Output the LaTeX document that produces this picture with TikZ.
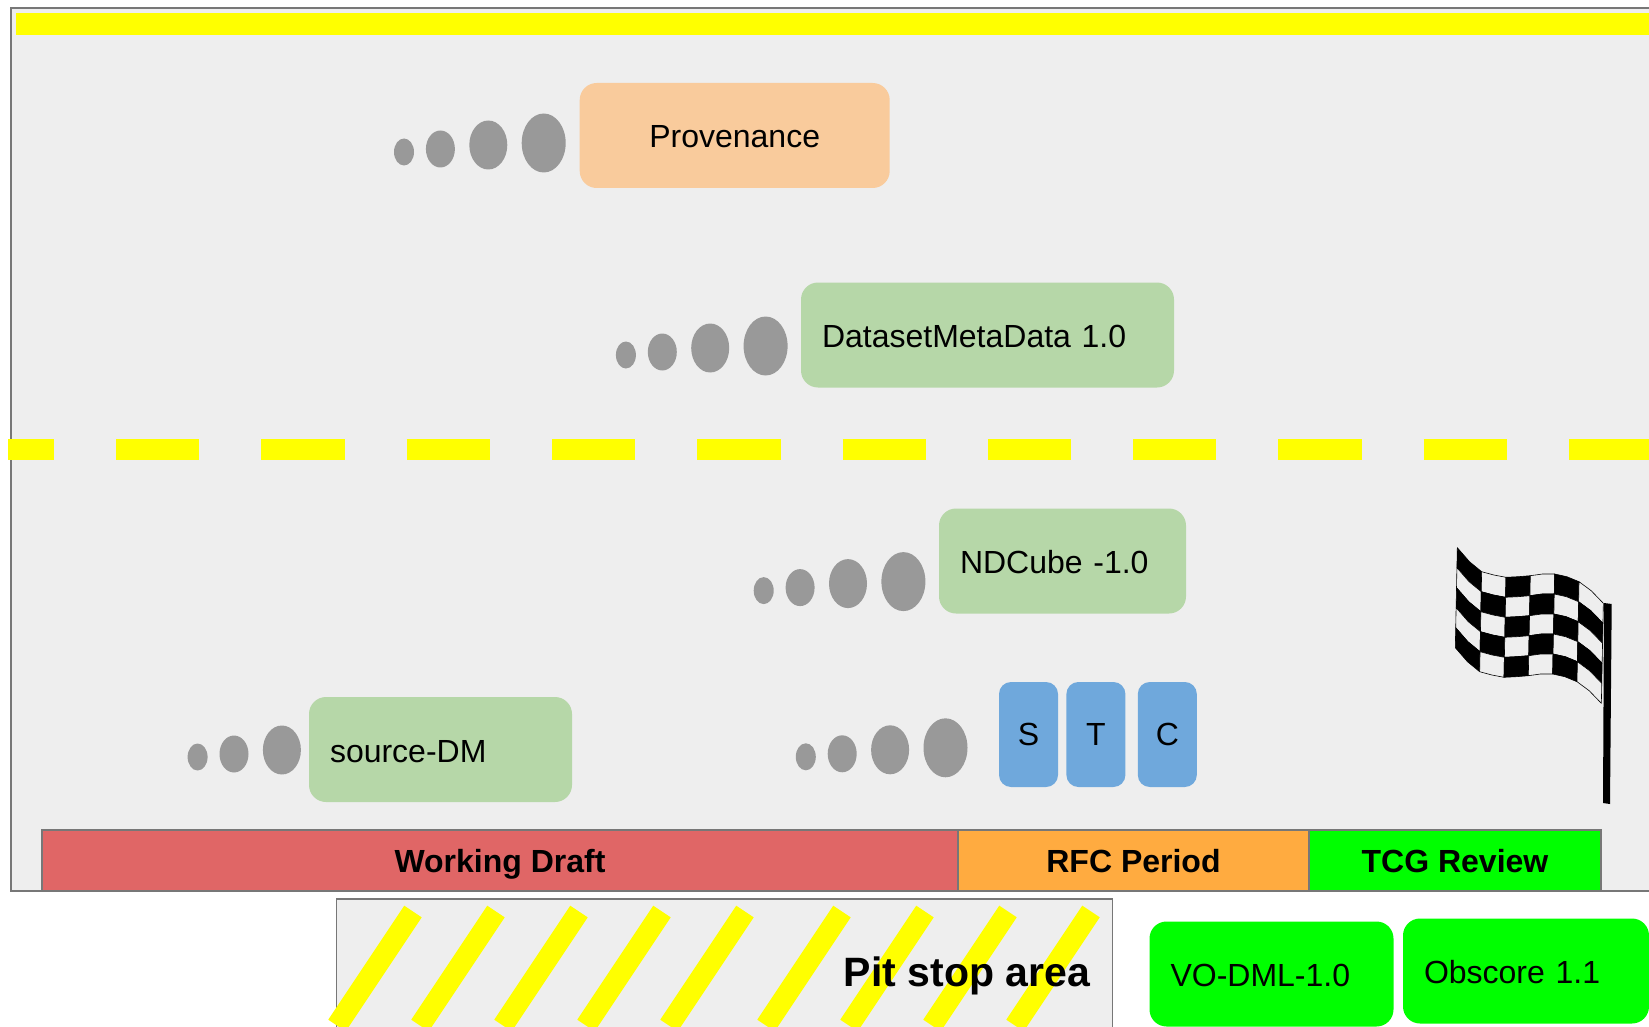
\documentclass[tikz,border=0pt]{standalone}
\usepackage{fontspec}
\setmainfont{Liberation Sans}
\usetikzlibrary{positioning,shapes.geometric}
\definecolor{trackgrey}{HTML}{EEEEEE}
\definecolor{edgegrey}{HTML}{777777}
\definecolor{puffgrey}{HTML}{999999}
\definecolor{modelorange}{HTML}{F9CB9C}
\definecolor{modelgreen}{HTML}{B6D7A8}
\definecolor{modelblue}{HTML}{6FA8DC}
\definecolor{draftred}{HTML}{E06666}
\definecolor{rfcorange}{HTML}{FFAB40}
\definecolor{donegreen}{HTML}{00FF00}
\definecolor{lineyellow}{HTML}{FFFF00}
\def\flagtop{{547.7,561.7,571.7,575,577.3,576.7,575.7,574,574,576.7,581.7,590.7,603.3}}
\newcommand{\flagxy}[2]{({1457.3+12.17*(#1)-.4*(#2)},{\flagtop[#1]+20*(#2)})}

\begin{document}
\begin{tikzpicture}[x=1pt,y=-1pt,node distance=14pt,
    racer/.style={rectangle,rounded corners=17pt,minimum height=105pt,inner xsep=21pt,
      inner ysep=0pt,text width=#1,text height=25pt,text depth=0pt,align=left,
      font=\fontsize{32}{38}\selectfont},
    letter/.style={rectangle,rounded corners=12pt,minimum width=59pt,minimum height=105pt,
      inner sep=0pt,fill=modelblue,font=\fontsize{32}{38}\selectfont},
    phase/.style={rectangle,draw=edgegrey,line width=1.3pt,minimum height=61pt,inner sep=0pt,
      outer sep=0pt,text height=24pt,text depth=0pt,font=\fontsize{32}{38}\selectfont\bfseries},
    puffA/.style={ellipse,fill=puffgrey,inner sep=0pt,minimum width=20pt,minimum height=27pt},
    puffB/.style={ellipse,fill=puffgrey,inner sep=0pt,minimum width=29pt,minimum height=37pt},
    puffC/.style={ellipse,fill=puffgrey,inner sep=0pt,minimum width=38pt,minimum height=49pt},
    puffD/.style={ellipse,fill=puffgrey,inner sep=0pt,minimum width=44pt,minimum height=59pt},
    stripe/.style={lineyellow,line width=21pt}]
  \useasboundingbox (0,0) rectangle (1649,1027);
  \clip (0,0) rectangle (1649,1027);

  \draw[edgegrey,fill=trackgrey,line width=1.5pt] (11,8) rectangle (1670,891);
  \fill[lineyellow] (15.5,13.5) rectangle (1670,35);
  \draw[lineyellow,line width=21.3pt,dash pattern=on 83.3pt off 62pt,dash phase=37.3pt] (8,449.2) -- (1649,449.2);

  \node[racer=268pt,fill=modelorange,align=center] (prov) at (734.7,135.5) {Provenance};
  \node[racer=331pt,fill=modelgreen] (dataset) at (987.5,335) {DatasetMetaData 1.0};
  \node[racer=205pt,fill=modelgreen] (ndcube) at (1062.5,561) {NDCube -1.0};
  \node[racer=221pt,fill=modelgreen] (source) at (440.5,749.5) {source-DM};

  \node[letter] (s) at (1028.5,734.5) {S};
  \node[letter] (t) [right=8pt of s] {T};
  \node[letter] (c) [right=12pt of t] {C};

  \node[puffD] (prov4) at (543.7,143) {};
  \node[puffC,yshift=-2pt] (prov3) [left=of prov4] {};
  \node[puffB,yshift=-4pt] (prov2) [left=of prov3] {};
  \node[puffA,yshift=-3pt] (prov1) [left=11.5pt of prov2] {};

  \node[puffD] (dataset4) at (765.6,346) {};
  \node[puffC,yshift=-2pt] (dataset3) [left=of dataset4] {};
  \node[puffB,yshift=-4pt] (dataset2) [left=of dataset3] {};
  \node[puffA,yshift=-3pt] (dataset1) [left=11.5pt of dataset2] {};

  \node[puffD] (ndcube4) at (903.4,581.6) {};
  \node[puffC,yshift=-2pt] (ndcube3) [left=of ndcube4] {};
  \node[puffB,yshift=-4pt] (ndcube2) [left=of ndcube3] {};
  \node[puffA,yshift=-3pt] (ndcube1) [left=11.5pt of ndcube2] {};

  \node[puffD] (stc4) at (945.5,747.8) {};
  \node[puffC,yshift=-2pt] (stc3) [left=of stc4] {};
  \node[puffB,yshift=-4pt] (stc2) [left=of stc3] {};
  \node[puffA,yshift=-3pt] (stc1) [left=11.5pt of stc2] {};

  \node[puffC] (source3) at (281.9,750) {};
  \node[puffB,yshift=-4pt] (source2) [left=of source3] {};
  \node[puffA,yshift=-3pt] (source1) [left=11.5pt of source2] {};

  \foreach \c in {0,...,5}
    \foreach \r in {0,...,4} {
      \pgfmathtruncatemacro{\shade}{100*mod(\c+\r+1,2)}
      \pgfmathtruncatemacro{\ia}{2*\c}
      \pgfmathtruncatemacro{\ib}{2*\c+1}
      \pgfmathtruncatemacro{\ic}{2*\c+2}
      \pgfmathtruncatemacro{\rr}{\r+1}
      \draw[black,line width=.6pt,line join=round,fill=black!\shade!trackgrey] \flagxy{\ia}{\r} -- \flagxy{\ib}{\r} -- \flagxy{\ic}{\r}
        -- \flagxy{\ic}{\rr} -- \flagxy{\ib}{\rr} -- \flagxy{\ia}{\rr} -- cycle;
    }
  \fill[black] (1604,603) -- (1611.7,604) -- (1610,804) -- (1603,803) -- cycle;

  \node[phase,fill=draftred,minimum width=916pt] (draft) at (500,860.5) {Working Draft};
  \node[phase,fill=rfcorange,minimum width=351pt] (rfc) [right=0pt of draft] {RFC Period};
  \node[phase,fill=donegreen,minimum width=292pt] (tcg) [right=0pt of rfc] {TCG Review};

  \draw[edgegrey,fill=trackgrey,line width=1.5pt] (336.5,899) rectangle (1112.5,1040);
  \foreach \x in {413,496,579,662,745,842,925,1008,1091}
    \draw[stripe] (\x,911.5) -- ++(-76,114);
  \node[font=\fontsize{41}{47}\selectfont\bfseries] (pit) at (967,976) {Pit stop area};

  \node[racer=202pt,fill=donegreen] (vodml) at (1271.5,974) {VO-DML-1.0};
  \node[racer=204pt,fill=donegreen] (obscore) at (1526,971) {Obscore 1.1};
\end{tikzpicture}
\end{document}
